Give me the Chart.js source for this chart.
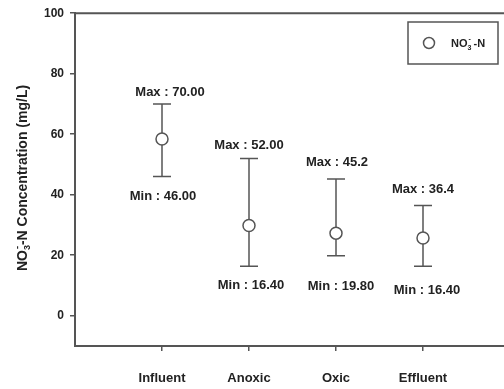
<!DOCTYPE html>
<html>
<head>
<meta charset="utf-8">
<script src="https://cdn.jsdelivr.net/npm/chart.js@4"></script>
<style>
  html, body { margin: 0; padding: 0; background: #fff; overflow: hidden; }
  #wrap { width: 520px; height: 389px; position: relative; }
</style>
</head>
<body>
<div id="wrap"><canvas id="c-no3"></canvas></div>
<script>
// values
var categories = ['Influent', 'Anoxic', 'Oxic', 'Effluent'];
var meanValues = [58.4, 29.8, 27.3, 25.7];
var maxValues = [70.00, 52.00, 45.2, 36.4];
var minValues = [46.00, 16.40, 19.80, 16.40];
var maxLabels = ['Max : 70.00', 'Max : 52.00', 'Max : 45.2', 'Max : 36.4'];
var minLabels = ['Min : 46.00', 'Min : 16.40', 'Min : 19.80', 'Min : 16.40'];
var yTicks = [0, 20, 40, 60, 80, 100];

// label placement (pixels), not data
var maxDy = [12, 13, 17, 16];
var minDy = [20, 19, 31, 24];
var maxDx = [8, 0, 1, 0];
var minDx = [1, 2, 5, 4];

var ink = '#222';
var lc = '#555';
var ff = '"Liberation Sans", Arial, sans-serif';

var points = categories.map(function(c, i) { return {x: i + 1, y: meanValues[i]}; });

var decor = {
  id: 'decor',
  beforeDatasetsDraw: function(chart) {
    var ctx = chart.ctx, xs = chart.scales.x, ys = chart.scales.y, a = chart.chartArea;
    ctx.save();
    // top frame line
    ctx.strokeStyle = lc; ctx.lineWidth = 2;
    ctx.beginPath(); ctx.moveTo(a.left, a.top); ctx.lineTo(a.right, a.top); ctx.stroke();
    // error bars
    ctx.lineWidth = 1.5;
    for (var i = 0; i < categories.length; i++) {
      var px = xs.getPixelForValue(i + 1);
      var pHi = ys.getPixelForValue(maxValues[i]);
      var pLo = ys.getPixelForValue(minValues[i]);
      ctx.beginPath();
      ctx.moveTo(px, pHi); ctx.lineTo(px, pLo);
      ctx.moveTo(px - 9, pHi); ctx.lineTo(px + 9, pHi);
      ctx.moveTo(px - 9, pLo); ctx.lineTo(px + 9, pLo);
      ctx.stroke();
    }
    ctx.restore();
  },
  afterDraw: function(chart) {
    var ctx = chart.ctx, xs = chart.scales.x, ys = chart.scales.y;
    ctx.save();
    ctx.fillStyle = ink;
    ctx.font = 'bold 13px ' + ff;
    ctx.textAlign = 'center';
    ctx.textBaseline = 'middle';
    for (var i = 0; i < categories.length; i++) {
      var px = xs.getPixelForValue(i + 1);
      ctx.fillText(maxLabels[i], px + maxDx[i], ys.getPixelForValue(maxValues[i]) - maxDy[i]);
      ctx.fillText(minLabels[i], px + minDx[i], ys.getPixelForValue(minValues[i]) + minDy[i]);
    }

    // y axis title with sub/superscript
    ctx.save();
    ctx.translate(22, 178);
    ctx.rotate(-Math.PI / 2);
    ctx.textAlign = 'left';
    ctx.textBaseline = 'alphabetic';
    var big = 'bold 14px ' + ff, small = 'bold 9px ' + ff;
    var rest = '-N Concentration (mg/L)';
    ctx.font = big; var w1 = ctx.measureText('NO').width, w3 = ctx.measureText(rest).width;
    ctx.font = small; var w2 = ctx.measureText('3').width;
    var x0 = -(w1 + w2 + w3) / 2, base = 5;
    ctx.font = big; ctx.fillText('NO', x0, base);
    ctx.font = small; ctx.fillText('3', x0 + w1, base + 3); ctx.fillText('-', x0 + w1 + 1, base - 7);
    ctx.font = big; ctx.fillText(rest, x0 + w1 + w2, base);
    ctx.restore();

    // legend box
    ctx.strokeStyle = lc; ctx.lineWidth = 1.5;
    ctx.strokeRect(408, 22, 90, 42);
    ctx.fillStyle = '#fff';
    ctx.beginPath(); ctx.arc(429, 43, 5.5, 0, Math.PI * 2); ctx.fill(); ctx.stroke();
    ctx.fillStyle = ink;
    ctx.textAlign = 'left'; ctx.textBaseline = 'alphabetic';
    ctx.font = 'bold 11px ' + ff;
    ctx.fillText('NO', 451, 47);
    var wn = ctx.measureText('NO').width;
    ctx.font = 'bold 7px ' + ff;
    ctx.fillText('3', 451 + wn, 50);
    ctx.fillText('-', 451 + wn + 1, 41);
    ctx.font = 'bold 11px ' + ff;
    ctx.fillText('-N', 451 + wn + 6, 47);
    ctx.restore();
  }
};

new Chart(document.getElementById('c-no3'), {
  type: 'scatter',
  data: {
    datasets: [{
      label: 'NO3-N',
      data: points,
      pointStyle: 'circle',
      pointRadius: 6,
      pointHoverRadius: 6,
      pointBorderWidth: 1.5,
      pointBorderColor: lc,
      pointBackgroundColor: '#fff'
    }]
  },
  options: {
    responsive: true,
    maintainAspectRatio: false,
    animation: false,
    layout: {padding: {top: 11, right: 10, left: 0, bottom: 0}},
    plugins: {legend: {display: false}, tooltip: {enabled: false}},
    scales: {
      x: {
        type: 'linear', min: 0, max: 5,
        afterBuildTicks: function(s) { s.ticks = categories.map(function(c, i) { return {value: i + 1}; }); },
        afterFit: function(s) { s.height = 43; },
        grid: {drawOnChartArea: false, drawTicks: true, tickLength: 5, color: lc, lineWidth: 1.5},
        border: {display: true, color: lc, width: 2},
        ticks: {
          color: ink, font: {family: ff, size: 13, weight: 'bold'}, padding: 20, maxRotation: 0,
          callback: function(v) { return categories[v - 1]; }
        }
      },
      y: {
        min: -10, max: 100,
        afterBuildTicks: function(s) { s.ticks = yTicks.map(function(v) { return {value: v}; }); },
        afterFit: function(s) { s.width = 75; },
        grid: {drawOnChartArea: false, drawTicks: true, tickLength: 5, color: lc, lineWidth: 1.5},
        border: {display: true, color: lc, width: 2},
        ticks: {color: ink, font: {family: ff, size: 12, weight: 'bold'}, padding: 6}
      }
    }
  },
  plugins: [decor]
});
</script>
</body>
</html>
